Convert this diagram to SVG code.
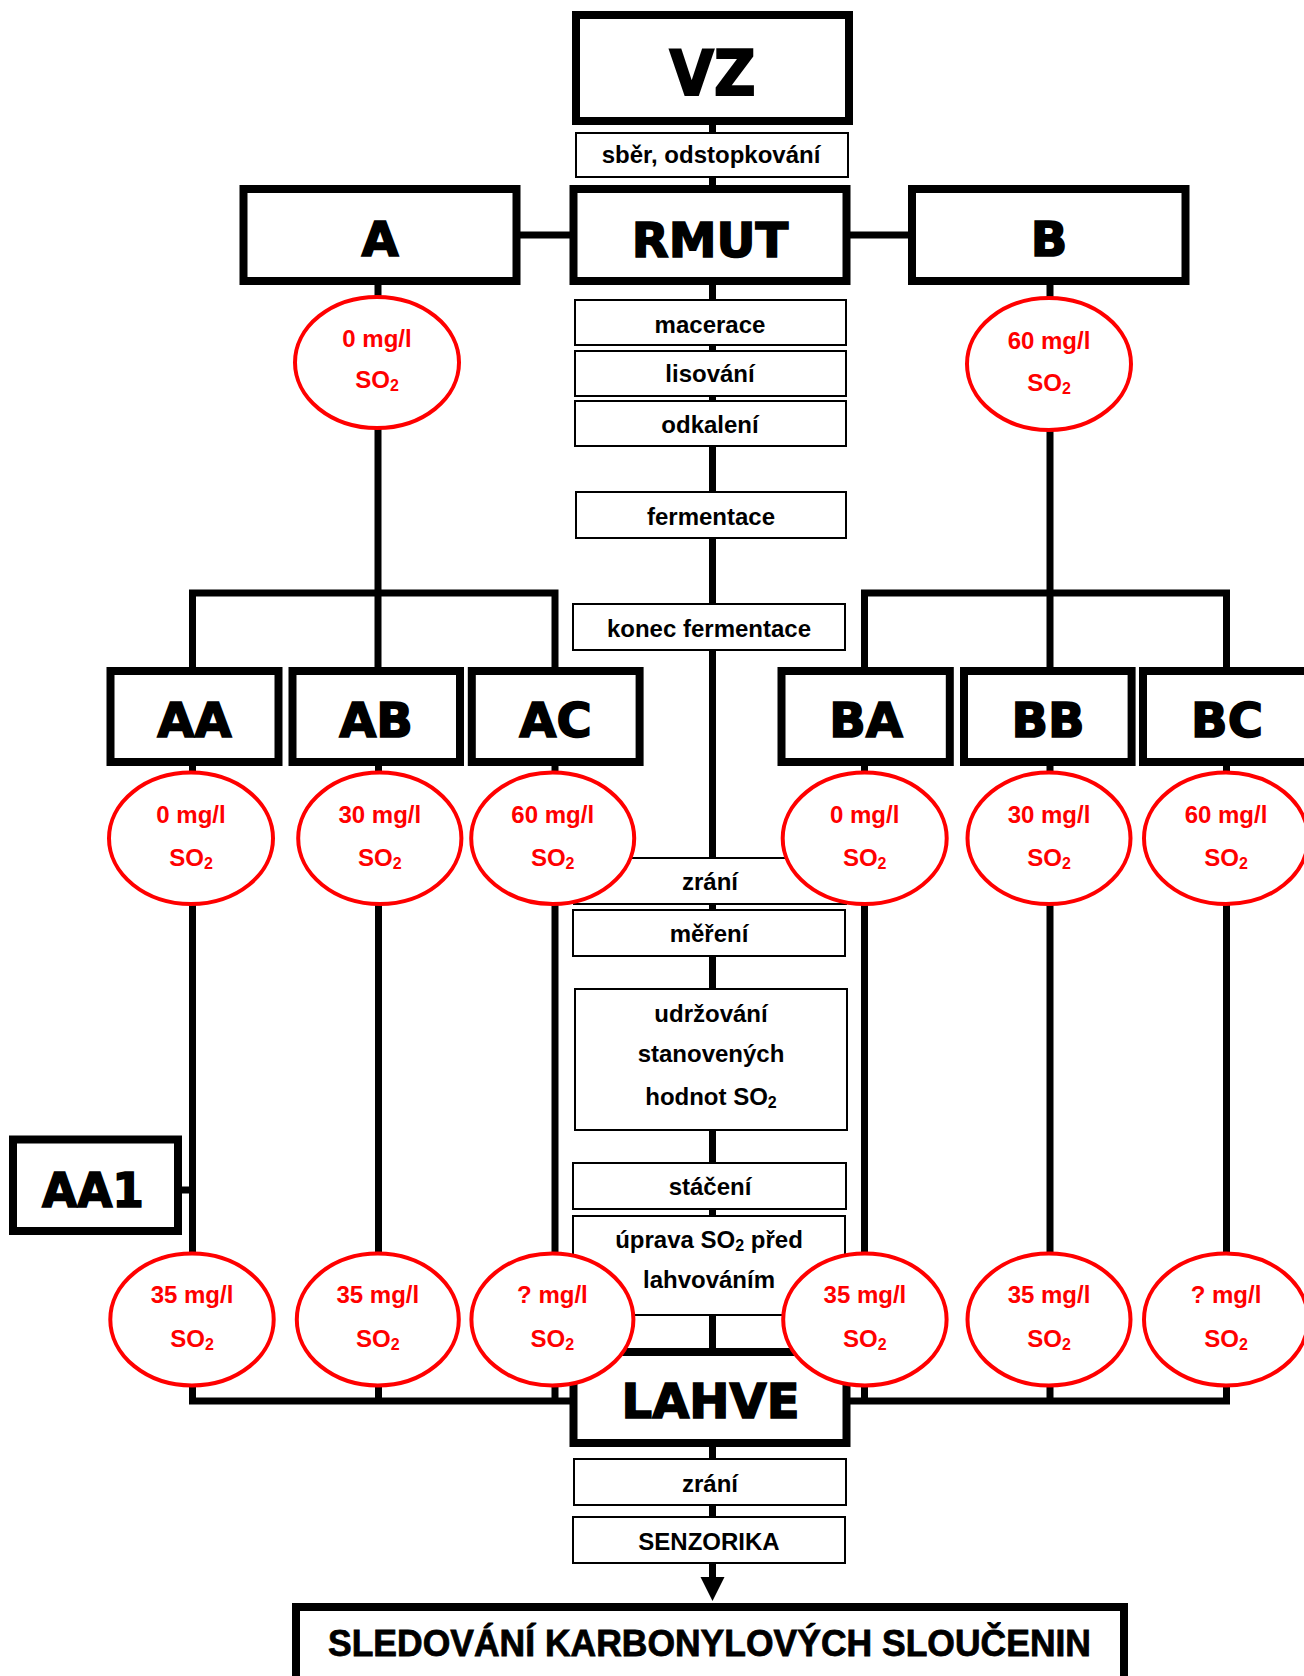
<svg xmlns="http://www.w3.org/2000/svg" width="1304" height="1676" viewBox="0 0 1304 1676">
<style>
.thick{fill:#fff;stroke:#000;stroke-width:8}
.thin{fill:#fff;stroke:#000;stroke-width:2}
.ell{fill:#fff;stroke:#f00;stroke-width:4}
.big{font-family:"DejaVu Sans",sans-serif;font-weight:bold;font-size:48px;text-anchor:middle;fill:#000;stroke:#000;stroke-width:1.6}
.lbl{font-family:"Liberation Sans",Arial,sans-serif;font-weight:bold;font-size:24px;text-anchor:middle;fill:#000}
.red{font-family:"Liberation Sans",Arial,sans-serif;font-weight:bold;font-size:24px;text-anchor:middle;fill:#f00}
.sub{font-size:16px}
#connectors path,#connectors line{fill:none;stroke:#000;stroke-width:7;stroke-linejoin:miter}
</style>
<rect width="1304" height="1676" fill="#fff"/>
<g id="connectors">
<line x1="712.5" y1="121" x2="712.5" y2="1580"/>
<polygon points="700.5,1577 724.5,1577 712.5,1601" fill="#000"/>
<line x1="516.5" y1="235" x2="573.5" y2="235"/>
<line x1="846.5" y1="235" x2="912" y2="235"/>
<line x1="378" y1="281" x2="378" y2="671"/>
<line x1="1050" y1="281" x2="1050" y2="671"/>
<path d="M192.5,671 V593 H555 V671"/>
<path d="M864.5,671 V593 H1226.5 V671"/>
<path d="M192.5,762 V1401 H573.5"/>
<line x1="378.5" y1="762" x2="378.5" y2="1401"/>
<line x1="555" y1="762" x2="555" y2="1401"/>
<path d="M1226.5,762 V1401 H846.5"/>
<line x1="864.5" y1="762" x2="864.5" y2="1401"/>
<line x1="1050" y1="762" x2="1050" y2="1401"/>
<line x1="177.8" y1="1190" x2="192.5" y2="1190"/>
</g>
<g id="n-vz"><rect class="thick" x="576" y="15" width="273" height="106"/><text class="big" x="712.5" y="95" style="font-size:62px;stroke-width:2" textLength="86" lengthAdjust="spacingAndGlyphs">VZ</text></g>
<g id="n-sber"><rect class="thin" x="576" y="133" width="272" height="44"/><text class="lbl" x="711" y="163">sběr, odstopkování</text></g>
<g id="n-a"><rect class="thick" x="243.5" y="189" width="273" height="92"/><text class="big" x="380" y="256">A</text></g>
<g id="n-rmut"><rect class="thick" x="573.5" y="189" width="273" height="92"/><text class="big" x="710" y="257">RMUT</text></g>
<g id="n-b"><rect class="thick" x="912" y="189" width="273.5" height="92"/><text class="big" x="1049" y="256">B</text></g>
<g id="n-macerace"><rect class="thin" x="575" y="300" width="271" height="45"/><text class="lbl" x="710" y="333">macerace</text></g>
<g id="n-lisovani"><rect class="thin" x="575" y="351" width="271" height="45"/><text class="lbl" x="710" y="382">lisování</text></g>
<g id="n-odkaleni"><rect class="thin" x="575" y="401" width="271" height="45"/><text class="lbl" x="710" y="433">odkalení</text></g>
<g id="n-fermentace"><rect class="thin" x="576" y="492" width="270" height="46"/><text class="lbl" x="711" y="525">fermentace</text></g>
<g id="n-konec"><rect class="thin" x="573" y="604" width="272" height="46"/><text class="lbl" x="709" y="637">konec fermentace</text></g>
<g id="n-aa"><rect class="thick" x="110.5" y="671" width="168" height="91"/><text class="big" x="194.5" y="737">AA</text></g>
<g id="n-ab"><rect class="thick" x="292.5" y="671" width="167.5" height="91"/><text class="big" x="376" y="737">AB</text></g>
<g id="n-ac"><rect class="thick" x="471.8" y="671" width="167.8" height="91"/><text class="big" x="555.5" y="737">AC</text></g>
<g id="n-ba"><rect class="thick" x="781.5" y="671" width="168.3" height="91"/><text class="big" x="866" y="737">BA</text></g>
<g id="n-bb"><rect class="thick" x="964" y="671" width="167.6" height="91"/><text class="big" x="1048" y="737">BB</text></g>
<g id="n-bc"><rect class="thick" x="1143" y="671" width="168" height="91"/><text class="big" x="1227" y="737">BC</text></g>
<g id="n-zrani1"><rect class="thin" x="574" y="858" width="272" height="46"/><text class="lbl" x="710" y="890">zrání</text></g>
<g id="n-mereni"><rect class="thin" x="573" y="910" width="272" height="46"/><text class="lbl" x="709" y="942">měření</text></g>
<g id="n-udrzovani"><rect class="thin" x="575" y="989" width="272" height="141"/><text class="lbl" x="711" y="1022">udržování</text><text class="lbl" x="711" y="1062">stanovených</text><text class="lbl" x="711" y="1105">hodnot SO<tspan class="sub" dy="3">2</tspan></text></g>
<g id="n-staceni"><rect class="thin" x="573" y="1163" width="273" height="46"/><text class="lbl" x="710" y="1195">stáčení</text></g>
<g id="n-uprava"><rect class="thin" x="573" y="1216" width="272" height="99"/><text class="lbl" x="709" y="1248">úprava SO<tspan class="sub" dy="3">2</tspan><tspan dy="-3"> před</tspan></text><text class="lbl" x="709" y="1288">lahvováním</text></g>
<g id="n-aa1"><rect class="thick" x="13" y="1139.5" width="165" height="91.5"/><text class="big" x="93" y="1207" textLength="102" lengthAdjust="spacingAndGlyphs">AA1</text></g>
<g id="n-lahve"><rect class="thick" x="573.5" y="1352" width="273" height="91"/><text class="big" x="710.5" y="1418">LAHVE</text></g>
<g id="n-zrani2"><rect class="thin" x="574" y="1459" width="272" height="46"/><text class="lbl" x="710" y="1492">zrání</text></g>
<g id="n-senzorika"><rect class="thin" x="573" y="1517" width="272" height="46"/><text class="lbl" x="709" y="1550">SENZORIKA</text></g>
<g id="n-sledovani"><rect class="thick" x="296" y="1607" width="828" height="120"/><text class="lbl" x="709.5" y="1656" style="font-size:36px;stroke:#000;stroke-width:0.8" textLength="763" lengthAdjust="spacingAndGlyphs">SLEDOVÁNÍ KARBONYLOVÝCH SLOUČENIN</text></g>
<g id="e-a"><ellipse class="ell" cx="377" cy="362.5" rx="82" ry="65.5"/><text class="red" x="377" y="347">0 mg/l</text><text class="red" x="377" y="388">SO<tspan class="sub" dy="3">2</tspan></text></g>
<g id="e-b"><ellipse class="ell" cx="1049" cy="364" rx="82" ry="66"/><text class="red" x="1049" y="349">60 mg/l</text><text class="red" x="1049" y="391">SO<tspan class="sub" dy="3">2</tspan></text></g>
<g id="e-aa"><ellipse class="ell" cx="191" cy="838.3" rx="82" ry="65.7"/><text class="red" x="191" y="823">0 mg/l</text><text class="red" x="191" y="866">SO<tspan class="sub" dy="3">2</tspan></text></g>
<g id="e-ab"><ellipse class="ell" cx="379.8" cy="838.3" rx="81.6" ry="65.7"/><text class="red" x="379.8" y="823">30 mg/l</text><text class="red" x="379.8" y="866">SO<tspan class="sub" dy="3">2</tspan></text></g>
<g id="e-ac"><ellipse class="ell" cx="552.7" cy="838.3" rx="81.5" ry="65.7"/><text class="red" x="552.7" y="823">60 mg/l</text><text class="red" x="552.7" y="866">SO<tspan class="sub" dy="3">2</tspan></text></g>
<g id="e-ba"><ellipse class="ell" cx="864.7" cy="838.3" rx="82" ry="65.7"/><text class="red" x="864.7" y="823">0 mg/l</text><text class="red" x="864.7" y="866">SO<tspan class="sub" dy="3">2</tspan></text></g>
<g id="e-bb"><ellipse class="ell" cx="1049" cy="838.3" rx="81.5" ry="65.7"/><text class="red" x="1049" y="823">30 mg/l</text><text class="red" x="1049" y="866">SO<tspan class="sub" dy="3">2</tspan></text></g>
<g id="e-bc"><ellipse class="ell" cx="1226" cy="838.3" rx="82" ry="65.7"/><text class="red" x="1226" y="823">60 mg/l</text><text class="red" x="1226" y="866">SO<tspan class="sub" dy="3">2</tspan></text></g>
<g id="e-aa2"><ellipse class="ell" cx="192" cy="1319.5" rx="81.7" ry="66"/><text class="red" x="192" y="1303">35 mg/l</text><text class="red" x="192" y="1347">SO<tspan class="sub" dy="3">2</tspan></text></g>
<g id="e-ab2"><ellipse class="ell" cx="377.8" cy="1319.5" rx="81" ry="66"/><text class="red" x="377.8" y="1303">35 mg/l</text><text class="red" x="377.8" y="1347">SO<tspan class="sub" dy="3">2</tspan></text></g>
<g id="e-ac2"><ellipse class="ell" cx="552.4" cy="1319.5" rx="81" ry="66"/><text class="red" x="552.4" y="1303">? mg/l</text><text class="red" x="552.4" y="1347">SO<tspan class="sub" dy="3">2</tspan></text></g>
<g id="e-ba2"><ellipse class="ell" cx="864.9" cy="1319.5" rx="81.7" ry="66"/><text class="red" x="864.9" y="1303">35 mg/l</text><text class="red" x="864.9" y="1347">SO<tspan class="sub" dy="3">2</tspan></text></g>
<g id="e-bb2"><ellipse class="ell" cx="1049" cy="1319.5" rx="81.5" ry="66"/><text class="red" x="1049" y="1303">35 mg/l</text><text class="red" x="1049" y="1347">SO<tspan class="sub" dy="3">2</tspan></text></g>
<g id="e-bc2"><ellipse class="ell" cx="1226" cy="1319.5" rx="82" ry="66"/><text class="red" x="1226" y="1303">? mg/l</text><text class="red" x="1226" y="1347">SO<tspan class="sub" dy="3">2</tspan></text></g>
</svg>
